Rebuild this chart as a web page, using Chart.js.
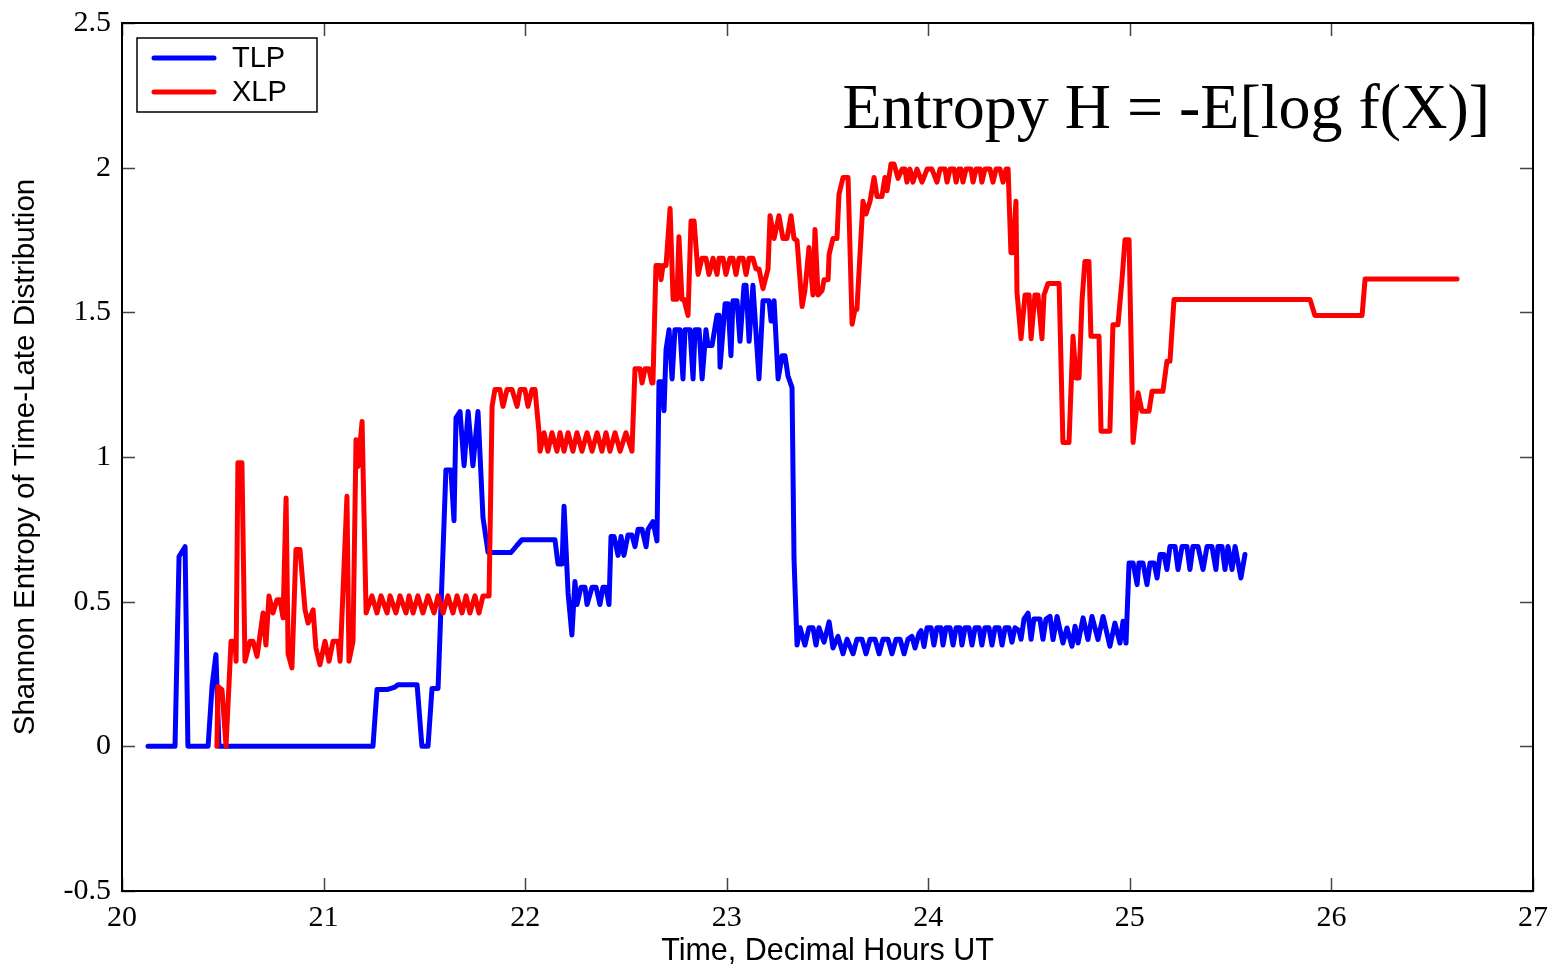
<!DOCTYPE html>
<html>
<head>
<meta charset="utf-8">
<title>Shannon Entropy of Time-Late Distribution</title>
<script src="https://cdn.jsdelivr.net/npm/chart.js@4.4.1/dist/chart.umd.min.js"></script>
<style>
    html, body { margin: 0; padding: 0; background: #fff; }
    canvas { display: block; }
</style>
</head>
<body>
<canvas id="entropyChart" width="1557" height="973"></canvas>
<script>
// TLP: time (decimal hours UT) and entropy
var tlpTime = [
    20.129, 20.263, 20.283, 20.313, 20.327, 20.427, 20.447, 20.466, 20.481,
    21.245, 21.265, 21.315, 21.354, 21.369, 21.464, 21.488, 21.518, 21.538, 21.568,
    21.607, 21.632, 21.647, 21.657, 21.677, 21.697, 21.717, 21.741, 21.766, 21.791, 21.816,
    21.93, 21.96, 21.984, 22.148, 22.163, 22.183, 22.193, 22.213, 22.232, 22.247, 22.257,
    22.277, 22.297, 22.307, 22.332, 22.352, 22.371, 22.386, 22.401, 22.416,
    22.426, 22.441, 22.461, 22.476, 22.49, 22.51, 22.53, 22.545, 22.56, 22.58, 22.6, 22.61,
    22.634, 22.654, 22.664, 22.679, 22.689, 22.699, 22.714, 22.729, 22.743, 22.768,
    22.783, 22.793, 22.818, 22.833, 22.843, 22.863, 22.878, 22.897, 22.907, 22.927,
    22.952, 22.962, 22.967, 22.992, 23.007, 23.021, 23.031, 23.051, 23.066, 23.086,
    23.096, 23.111, 23.13, 23.16, 23.18, 23.21, 23.22, 23.235, 23.255, 23.275, 23.289,
    23.304, 23.324, 23.334, 23.349, 23.364, 23.388, 23.408, 23.428, 23.443, 23.458,
    23.483, 23.508, 23.527, 23.552, 23.577, 23.597, 23.627, 23.646, 23.671, 23.691,
    23.711, 23.736, 23.756, 23.775, 23.8, 23.82, 23.84, 23.86, 23.88, 23.899, 23.919,
    23.934, 23.954, 23.964, 23.979, 23.994, 24.014, 24.028, 24.043, 24.063, 24.073,
    24.088, 24.108, 24.123, 24.138, 24.157, 24.167, 24.182, 24.202, 24.217, 24.232,
    24.252, 24.266, 24.281, 24.301, 24.316, 24.331, 24.351, 24.366, 24.381, 24.4,
    24.415, 24.43, 24.45, 24.46, 24.475, 24.495, 24.51, 24.524, 24.554, 24.569, 24.584,
    24.604, 24.619, 24.639, 24.668, 24.688, 24.713, 24.728, 24.743, 24.768, 24.792,
    24.812, 24.842, 24.867, 24.901, 24.926, 24.951, 24.966, 24.981, 24.996, 25.016,
    25.036, 25.045, 25.065, 25.085, 25.1, 25.12, 25.135, 25.15, 25.169, 25.184, 25.199,
    25.224, 25.239, 25.259, 25.283, 25.298, 25.313, 25.338, 25.363, 25.383, 25.407,
    25.427, 25.437, 25.457, 25.472, 25.487, 25.507, 25.522, 25.551, 25.571
];
var tlpValue = [
    0, 0, 0.656, 0.69, 0, 0, 0.21, 0.317, 0,
    0, 0.196, 0.196, 0.205, 0.213, 0.213, 0, 0, 0.2, 0.2,
    0.955, 0.955, 0.78, 1.135, 1.157, 0.97, 1.157, 0.97, 1.157, 0.79, 0.67,
    0.67, 0.695, 0.714, 0.714, 0.63, 0.63, 0.83, 0.53, 0.385, 0.57, 0.49,
    0.55, 0.55, 0.49, 0.55, 0.55, 0.49, 0.55, 0.55, 0.49,
    0.725, 0.725, 0.66, 0.725, 0.66, 0.73, 0.73, 0.69, 0.75, 0.75, 0.69, 0.75,
    0.777, 0.71, 1.26, 1.26, 1.16, 1.37, 1.44, 1.27, 1.44, 1.44,
    1.27, 1.44, 1.44, 1.27, 1.44, 1.44, 1.27, 1.44, 1.385, 1.385,
    1.49, 1.49, 1.31, 1.53, 1.53, 1.35, 1.54, 1.54, 1.40, 1.594,
    1.594, 1.40, 1.594, 1.27, 1.54, 1.54, 1.47, 1.54, 1.27, 1.35, 1.35,
    1.28, 1.24, 0.645, 0.35, 0.41, 0.35, 0.41, 0.41, 0.35, 0.41,
    0.36, 0.43, 0.34, 0.38, 0.32, 0.37, 0.32, 0.37, 0.37, 0.32,
    0.37, 0.37, 0.32, 0.37, 0.37, 0.32, 0.37, 0.37, 0.32, 0.37, 0.38,
    0.34, 0.39, 0.40, 0.345, 0.41, 0.41, 0.35, 0.41, 0.41, 0.35,
    0.41, 0.41, 0.35, 0.41, 0.41, 0.35, 0.41, 0.41, 0.35, 0.41,
    0.41, 0.35, 0.41, 0.41, 0.35, 0.41, 0.41, 0.35, 0.41, 0.41,
    0.36, 0.41, 0.40, 0.37, 0.44, 0.46, 0.37, 0.44, 0.44, 0.37, 0.44,
    0.449, 0.369, 0.449, 0.357, 0.409, 0.346, 0.415, 0.357, 0.444, 0.369,
    0.449, 0.369, 0.449, 0.346, 0.426, 0.357, 0.432, 0.357, 0.634, 0.634,
    0.559, 0.634, 0.634, 0.559, 0.634, 0.634, 0.582, 0.663, 0.663, 0.611, 0.691,
    0.691, 0.611, 0.691, 0.691, 0.611, 0.691, 0.691, 0.611, 0.691, 0.691,
    0.611, 0.691, 0.691, 0.611, 0.691, 0.611, 0.691, 0.582, 0.663
];

// XLP: time (decimal hours UT) and entropy
var xlpTime = [
    20.471, 20.476, 20.496, 20.516, 20.541, 20.561, 20.566, 20.575, 20.595, 20.61,
    20.635, 20.65, 20.67, 20.7, 20.714, 20.729, 20.749, 20.769, 20.784, 20.799,
    20.814, 20.824, 20.843, 20.863, 20.883, 20.908, 20.923, 20.948, 20.962, 20.982,
    21.007, 21.027, 21.047, 21.072, 21.082, 21.116, 21.126, 21.146, 21.161, 21.171,
    21.191, 21.211, 21.24, 21.265, 21.285, 21.315, 21.33, 21.359, 21.379, 21.409,
    21.424, 21.444, 21.468, 21.493, 21.518, 21.548, 21.568, 21.593, 21.617, 21.642,
    21.662, 21.687, 21.707, 21.726, 21.751, 21.771, 21.791, 21.821, 21.836, 21.85,
    21.875, 21.89, 21.91, 21.935, 21.96, 21.975, 21.999, 22.014, 22.034, 22.049,
    22.069, 22.074, 22.094, 22.113, 22.133, 22.158, 22.173, 22.193, 22.213, 22.237,
    22.257, 22.282, 22.307, 22.332, 22.357, 22.381, 22.401, 22.421, 22.446, 22.471,
    22.5, 22.53, 22.545, 22.57, 22.58, 22.595, 22.614, 22.629, 22.634, 22.649,
    22.669, 22.674, 22.684, 22.699, 22.719, 22.734, 22.753, 22.763, 22.778, 22.788,
    22.808, 22.823, 22.838, 22.858, 22.877, 22.897, 22.912, 22.932, 22.952, 22.962,
    22.982, 22.996, 23.016, 23.031, 23.046, 23.061, 23.081, 23.096, 23.111, 23.13,
    23.145, 23.16, 23.18, 23.205, 23.215, 23.235, 23.259, 23.279, 23.299, 23.319,
    23.334, 23.349, 23.374, 23.388, 23.408, 23.428, 23.438, 23.453, 23.473, 23.483,
    23.503, 23.508, 23.527, 23.547, 23.557, 23.577, 23.602, 23.622, 23.636, 23.646,
    23.676, 23.691, 23.711, 23.731, 23.746, 23.77, 23.785, 23.795, 23.815, 23.83,
    23.85, 23.87, 23.884, 23.894, 23.909, 23.924, 23.944, 23.969, 23.994, 24.018,
    24.043, 24.058, 24.083, 24.093, 24.108, 24.128, 24.138, 24.152, 24.162, 24.172,
    24.187, 24.212, 24.222, 24.237, 24.257, 24.266, 24.281, 24.306, 24.321, 24.336,
    24.356, 24.371, 24.386, 24.396, 24.41, 24.42, 24.435, 24.44, 24.46, 24.48,
    24.5, 24.51, 24.529, 24.544, 24.564, 24.574, 24.594, 24.649, 24.668, 24.698,
    24.718, 24.733, 24.748, 24.763, 24.777, 24.797, 24.807, 24.847, 24.857, 24.901,
    24.916, 24.941, 24.961, 24.976, 24.996, 25.016, 25.041, 25.06, 25.095, 25.11,
    25.164, 25.184, 25.199, 25.219, 25.894, 25.918, 26.152, 26.167, 26.623
];
var xlpValue = [
    0, 0.207, 0.196, 0, 0.363, 0.363, 0.294, 0.98, 0.98, 0.294,
    0.363, 0.363, 0.311, 0.461, 0.35, 0.52, 0.461, 0.507, 0.507, 0.444,
    0.858, 0.32, 0.271, 0.68, 0.68, 0.472, 0.426, 0.472, 0.34, 0.282,
    0.363, 0.294, 0.363, 0.363, 0.294, 0.864, 0.294, 0.363, 1.06, 0.967,
    1.123, 0.461, 0.52, 0.461, 0.52, 0.461, 0.52, 0.461, 0.52, 0.461,
    0.52, 0.461, 0.52, 0.461, 0.52, 0.461, 0.52, 0.461, 0.52, 0.461,
    0.52, 0.461, 0.52, 0.461, 0.52, 0.461, 0.52, 0.52, 1.175, 1.233,
    1.233, 1.175, 1.233, 1.233, 1.175, 1.233, 1.233, 1.175, 1.233, 1.233,
    1.084, 1.02, 1.084, 1.02, 1.084, 1.02, 1.084, 1.02, 1.084, 1.02,
    1.084, 1.02, 1.084, 1.02, 1.084, 1.02, 1.084, 1.02, 1.084, 1.02,
    1.084, 1.02, 1.305, 1.305, 1.256, 1.305, 1.305, 1.256, 1.256, 1.662,
    1.662, 1.613, 1.662, 1.662, 1.859, 1.545, 1.545, 1.761, 1.545, 1.545,
    1.489, 1.816, 1.816, 1.631, 1.687, 1.687, 1.631, 1.687, 1.631, 1.687,
    1.687, 1.631, 1.687, 1.687, 1.631, 1.687, 1.687, 1.631, 1.687, 1.687,
    1.65, 1.65, 1.582, 1.65, 1.834, 1.755, 1.834, 1.755, 1.755, 1.834,
    1.755, 1.748, 1.52, 1.575, 1.724, 1.56, 1.786, 1.56, 1.575, 1.613,
    1.613, 1.70, 1.755, 1.755, 1.908, 1.966, 1.966, 1.459, 1.51, 1.51,
    1.884, 1.84, 1.884, 1.966, 1.90, 1.90, 1.966, 1.92, 2.013, 2.013,
    1.963, 1.995, 1.995, 1.95, 1.995, 1.95, 1.995, 1.95, 1.995, 1.995,
    1.95, 1.995, 1.995, 1.95, 1.995, 1.995, 1.95, 1.995, 1.995, 1.95,
    1.995, 1.995, 1.95, 1.995, 1.995, 1.95, 1.995, 1.995, 1.95, 1.995,
    1.995, 1.95, 1.995, 1.995, 1.706, 1.706, 1.884, 1.57, 1.409, 1.56,
    1.56, 1.409, 1.56, 1.56, 1.409, 1.56, 1.60, 1.60, 1.05, 1.05,
    1.417, 1.273, 1.273, 1.544, 1.676, 1.676, 1.417, 1.417, 1.089, 1.089,
    1.457, 1.457, 1.613, 1.751, 1.751, 1.05, 1.222, 1.158, 1.158, 1.227,
    1.227, 1.331, 1.331, 1.544, 1.544, 1.489, 1.489, 1.615, 1.615
];

var xTicks = [20, 21, 22, 23, 24, 25, 26, 27];
var yTicks = [-0.5, 0, 0.5, 1, 1.5, 2, 2.5];

function toPoints(times, values) {
    return times.map(function(t, i) { return { x: t, y: values[i] }; });
}

// Box, inward ticks, legend and formula text drawn on top of the data
var framePlugin = {
    id: 'frame',
    afterDatasetsDraw: function(chart) {
        var ctx = chart.ctx;
        var a = chart.chartArea;
        var xs = chart.scales.x;
        var ys = chart.scales.y;
        var tick = 13;

        ctx.save();
        ctx.strokeStyle = '#444';
        ctx.lineWidth = 1.5;
        ctx.beginPath();
        xTicks.forEach(function(v) {
            var px = Math.round(xs.getPixelForValue(v)) + 0.5;
            ctx.moveTo(px, a.bottom); ctx.lineTo(px, a.bottom - tick);
            ctx.moveTo(px, a.top); ctx.lineTo(px, a.top + tick);
        });
        yTicks.forEach(function(v) {
            var py = Math.round(ys.getPixelForValue(v)) + 0.5;
            ctx.moveTo(a.left, py); ctx.lineTo(a.left + tick, py);
            ctx.moveTo(a.right, py); ctx.lineTo(a.right - tick, py);
        });
        ctx.stroke();

        ctx.strokeStyle = '#000';
        ctx.lineWidth = 2;
        ctx.strokeRect(a.left, a.top, a.right - a.left, a.bottom - a.top);

        // legend
        var lx = a.left + 15, ly = a.top + 15, lw = 180, lh = 74;
        ctx.fillStyle = '#fff';
        ctx.fillRect(lx, ly, lw, lh);
        ctx.strokeStyle = '#000';
        ctx.lineWidth = 1.5;
        ctx.strokeRect(lx, ly, lw, lh);
        ctx.font = '29px "Liberation Sans", Arial, sans-serif';
        ctx.textBaseline = 'middle';
        ctx.lineCap = 'round';
        chart.data.datasets.forEach(function(ds, i) {
            var y = ly + 20 + i * 34;
            ctx.strokeStyle = ds.borderColor;
            ctx.lineWidth = 5;
            ctx.beginPath();
            ctx.moveTo(lx + 17, y);
            ctx.lineTo(lx + 77, y);
            ctx.stroke();
            ctx.fillStyle = '#000';
            ctx.fillText(ds.label, lx + 95, y + 1);
        });

        // formula
        ctx.font = '64px "Liberation Serif", "Times New Roman", serif';
        ctx.textBaseline = 'alphabetic';
        ctx.textAlign = 'right';
        ctx.fillStyle = '#000';
        ctx.fillText('Entropy H = -E[log f(X)]', 1490, 128);
        ctx.restore();
    }
};

var ctx = document.getElementById('entropyChart').getContext('2d');
var chart = new Chart(ctx, {
    type: 'line',
    data: {
        datasets: [{
            label: 'TLP',
            data: toPoints(tlpTime, tlpValue),
            borderColor: '#0000ff',
            borderWidth: 5,
            order: 1
        }, {
            label: 'XLP',
            data: toPoints(xlpTime, xlpValue),
            borderColor: '#ff0000',
            borderWidth: 5,
            order: 0
        }]
    },
    options: {
        responsive: false,
        animation: false,
        devicePixelRatio: 1,
        layout: {
            padding: { top: 23, right: 24, bottom: 0, left: 0 }
        },
        elements: {
            point: { radius: 0 },
            line: { tension: 0, borderJoinStyle: 'round', borderCapStyle: 'round' }
        },
        plugins: {
            legend: { display: false },
            tooltip: { enabled: false }
        },
        scales: {
            x: {
                type: 'linear',
                min: 20,
                max: 27,
                afterBuildTicks: function(scale) {
                    scale.ticks = xTicks.map(function(v) { return { value: v }; });
                },
                afterFit: function(scale) {
                    scale.height = 82;
                    scale.paddingLeft = 0;
                    scale.paddingRight = 0;
                },
                grid: { display: false, drawTicks: false },
                border: { display: false },
                ticks: {
                    padding: 9,
                    color: '#000',
                    maxRotation: 0,
                    font: { family: '"Liberation Serif", "Times New Roman", serif', size: 30 },
                    callback: function(v) { return String(v); }
                },
                title: {
                    display: true,
                    text: 'Time, Decimal Hours UT',
                    color: '#000',
                    font: { family: '"Liberation Sans", Arial, sans-serif', size: 30.5 },
                    padding: { top: 0, bottom: 3 }
                }
            },
            y: {
                min: -0.5,
                max: 2.5,
                afterBuildTicks: function(scale) {
                    scale.ticks = yTicks.map(function(v) { return { value: v }; });
                },
                afterFit: function(scale) {
                    scale.width = 122;
                    scale.paddingTop = 0;
                    scale.paddingBottom = 0;
                },
                grid: { display: false, drawTicks: false },
                border: { display: false },
                ticks: {
                    padding: 11,
                    color: '#000',
                    font: { family: '"Liberation Serif", "Times New Roman", serif', size: 30 },
                    callback: function(v) { return String(Math.round(v * 10) / 10); }
                },
                title: {
                    display: true,
                    text: 'Shannon Entropy of Time-Late Distribution',
                    color: '#000',
                    font: { family: '"Liberation Sans", Arial, sans-serif', size: 29.5 },
                    padding: { top: 8, bottom: 0 }
                }
            }
        }
    },
    plugins: [framePlugin]
});
</script>
</body>
</html>
